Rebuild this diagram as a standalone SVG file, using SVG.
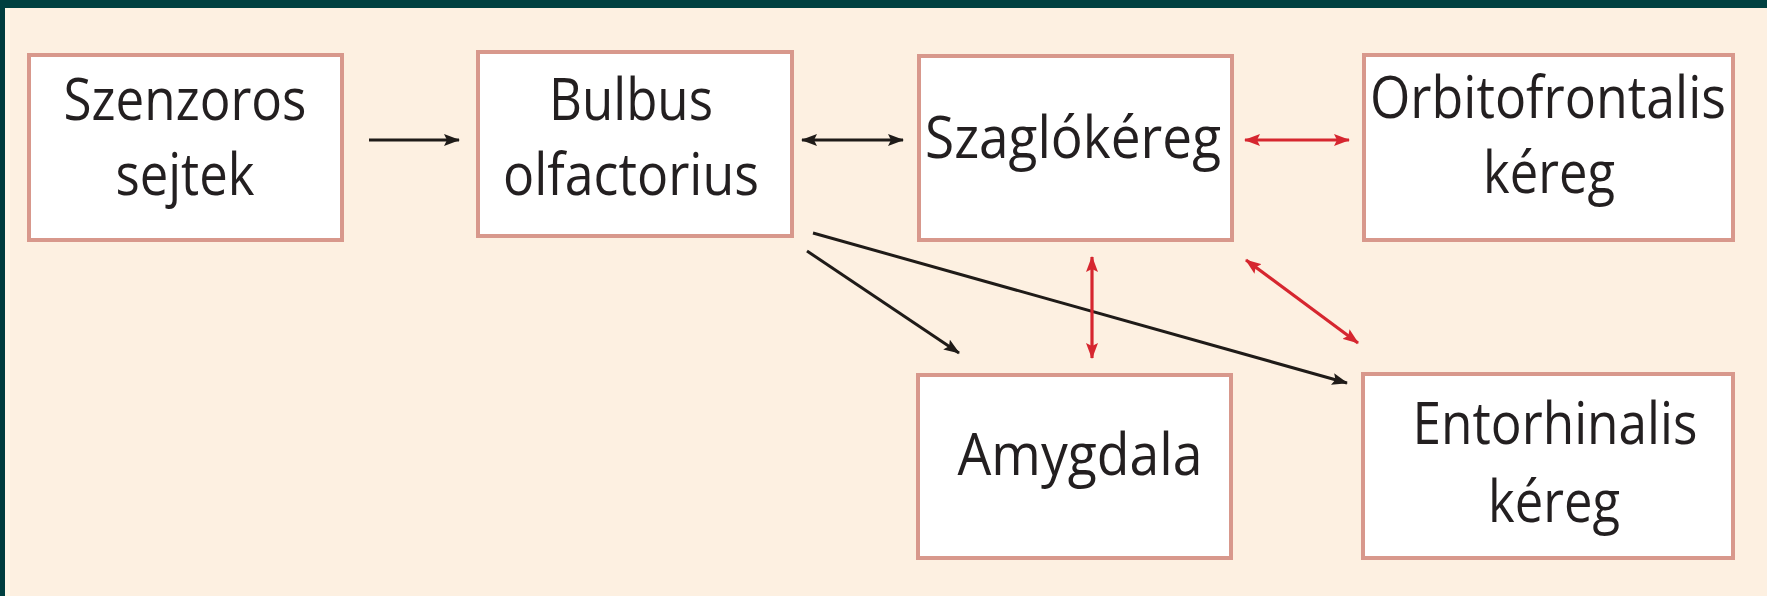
<svg xmlns="http://www.w3.org/2000/svg" width="1767" height="596" viewBox="0 0 1767 596">
<style>
.box{fill:#ffffff;stroke:#d8988c;stroke-width:4}
.t{font-family:"Open Sans","Liberation Sans",sans-serif;font-size:58px;fill:#231f20;text-anchor:middle}
.blk{stroke:#1f1b18;stroke-width:3;fill:none}
.red{stroke:#d6262f;stroke-width:3.2;fill:none}
</style>
<defs>
<marker id="ab" viewBox="0 0 16 12" refX="15" refY="6" markerWidth="16" markerHeight="12" markerUnits="userSpaceOnUse" orient="auto-start-reverse">
<path d="M0,0 L16,6 L0,12 L3,6 z" fill="#1f1b18"/>
</marker>
<marker id="ar" viewBox="0 0 16 12" refX="15" refY="6" markerWidth="16" markerHeight="12" markerUnits="userSpaceOnUse" orient="auto-start-reverse">
<path d="M0,0 L16,6 L0,12 L3,6 z" fill="#d6262f"/>
</marker>
</defs>
<rect x="0" y="0" width="1767" height="596" fill="#fdf0e1"/>
<rect x="0" y="0" width="1767" height="8" fill="#004040"/>
<rect x="0" y="0" width="5" height="596" fill="#004040"/>
<rect x="5" y="8" width="5" height="588" fill="#fff8e8"/>

<g id="connectors">
<line class="blk" x1="369" y1="140" x2="459" y2="140" marker-end="url(#ab)"/>
<line class="blk" x1="802" y1="140" x2="903" y2="140" marker-start="url(#ab)" marker-end="url(#ab)"/>
<line class="red" x1="1245" y1="140" x2="1349" y2="140" marker-start="url(#ar)" marker-end="url(#ar)"/>
<line class="blk" x1="807" y1="251" x2="959" y2="353" marker-end="url(#ab)"/>
<line class="blk" x1="813" y1="233" x2="1347" y2="383" marker-end="url(#ab)"/>
<line class="red" x1="1092" y1="257" x2="1092" y2="358" marker-start="url(#ar)" marker-end="url(#ar)"/>
<line class="red" x1="1246" y1="260" x2="1358" y2="343" marker-start="url(#ar)" marker-end="url(#ar)"/>
</g>

<g id="szenzoros">
<rect class="box" x="29" y="55" width="313" height="185"/>
<text class="t" x="185" y="120" textLength="243" lengthAdjust="spacingAndGlyphs">Szenzoros</text>
<text class="t" x="185" y="195" textLength="139" lengthAdjust="spacingAndGlyphs">sejtek</text>
</g>
<g id="bulbus">
<rect class="box" x="478" y="52" width="314" height="184"/>
<text class="t" x="631" y="120" textLength="164" lengthAdjust="spacingAndGlyphs">Bulbus</text>
<text class="t" x="631" y="195" textLength="256" lengthAdjust="spacingAndGlyphs">olfactorius</text>
</g>
<g id="szaglokereg">
<rect class="box" x="919" y="56" width="313" height="184"/>
<text class="t" x="1073" y="158" textLength="296" lengthAdjust="spacingAndGlyphs">Szaglókéreg</text>
</g>
<g id="orbitofrontalis">
<rect class="box" x="1364" y="55" width="369" height="185"/>
<text class="t" x="1548" y="118" textLength="356" lengthAdjust="spacingAndGlyphs">Orbitofrontalis</text>
<text class="t" x="1549" y="193" textLength="132" lengthAdjust="spacingAndGlyphs">kéreg</text>
</g>
<g id="amygdala">
<rect class="box" x="918" y="375" width="313" height="183"/>
<text class="t" x="1080" y="475" textLength="245" lengthAdjust="spacingAndGlyphs">Amygdala</text>
</g>
<g id="entorhinalis">
<rect class="box" x="1363" y="374" width="370" height="184"/>
<text class="t" x="1555" y="444" textLength="285" lengthAdjust="spacingAndGlyphs">Entorhinalis</text>
<text class="t" x="1554" y="522" textLength="132" lengthAdjust="spacingAndGlyphs">kéreg</text>
</g>
</svg>
